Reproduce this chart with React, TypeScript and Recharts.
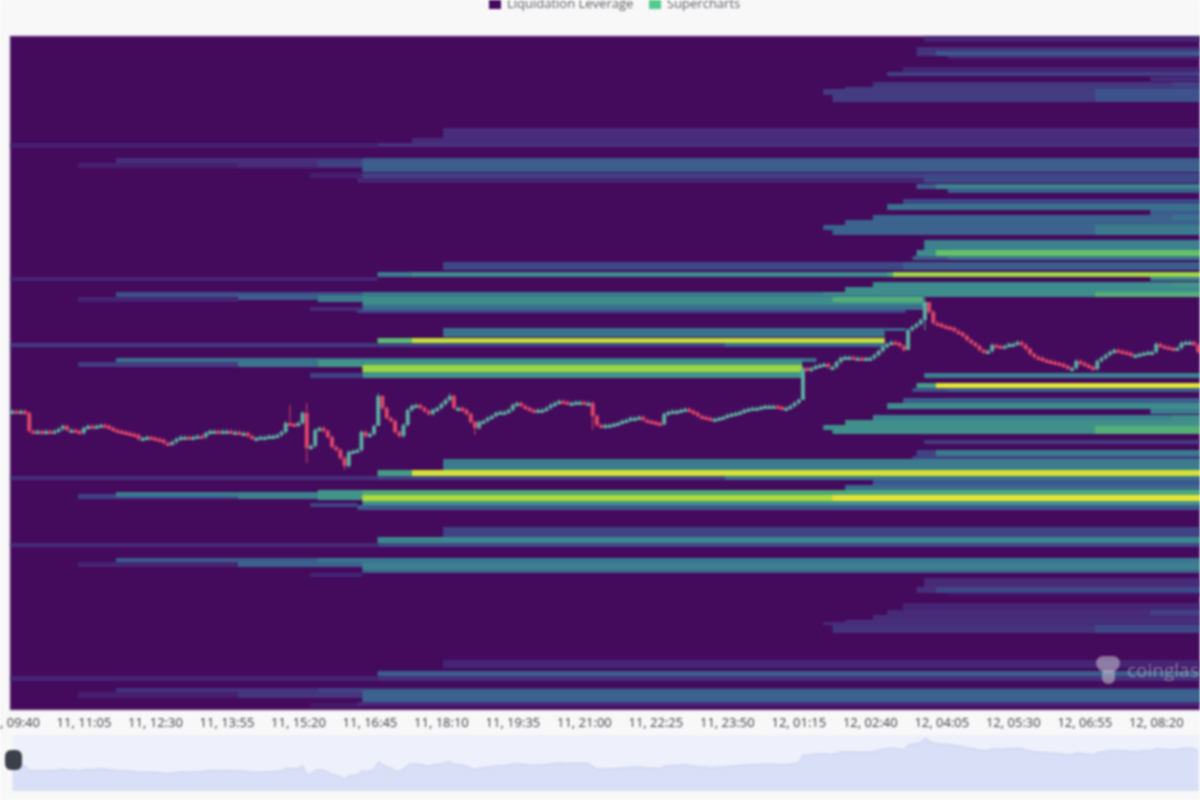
import { Area, AreaChart, Bar, ComposedChart, ReferenceArea, XAxis, YAxis } from 'recharts';

// time axis is minutes counted from 00:00 on the 11th, price is in relative levels (no scale visible)
const tickTimes = [580, 665, 750, 835, 920, 1005, 1090, 1175, 1260, 1345, 1430, 1515, 1600, 1685, 1770, 1855, 1940];
const tickLabels = [
  '11, 09:40', '11, 11:05', '11, 12:30', '11, 13:55', '11, 15:20', '11, 16:45', '11, 18:10', '11, 19:35', '11, 21:00',
  '11, 22:25', '11, 23:50', '12, 01:15', '12, 02:40', '12, 04:05', '12, 05:30', '12, 06:55', '12, 08:20',
];

const START = 577;
const END = 1992;
const FIRST_CANDLE = 580;

// one close per 5 minute candle
const closes = [
  299, 298, 299, 297, 279, 278, 279, 277, 279, 278, 279, 281, 284, 280, 280, 279, 277, 282, 284, 283,
  284, 285, 284, 282, 280, 279, 278, 277, 276, 275, 271, 272, 273, 272, 271, 270, 267, 266, 268, 271,
  273, 273, 272, 273, 274, 273, 277, 279, 279, 278, 279, 279, 278, 278, 277, 277, 274, 272, 272, 273,
  273, 274, 274, 275, 278, 287, 286, 285, 287, 297, 262, 264, 280, 282, 279, 273, 263, 260, 252, 244,
  258, 259, 260, 278, 274, 276, 284, 314, 302, 292, 289, 278, 274, 285, 300, 304, 305, 302, 299, 296,
  300, 302, 306, 310, 314, 302, 302, 300, 296, 288, 282, 288, 289, 292, 294, 297, 298, 298, 300, 305,
  307, 304, 302, 300, 299, 300, 300, 302, 305, 307, 309, 308, 307, 307, 308, 308, 307, 307, 294, 285,
  283, 285, 285, 286, 287, 289, 290, 292, 292, 293, 290, 289, 288, 287, 286, 296, 298, 299, 299, 300,
  301, 299, 297, 294, 293, 292, 291, 291, 292, 293, 295, 296, 297, 298, 300, 301, 302, 302, 303, 304,
  304, 304, 303, 302, 302, 304, 307, 310, 342, 340, 342, 344, 345, 346, 343, 343, 348, 352, 353, 353,
  352, 352, 351, 352, 352, 355, 359, 363, 366, 368, 367, 364, 360, 380, 383, 386, 390, 408, 398, 387,
  386, 384, 383, 382, 379, 377, 374, 370, 367, 364, 360, 358, 359, 365, 364, 363, 364, 366, 366, 368,
  365, 361, 356, 353, 352, 350, 349, 348, 347, 346, 344, 342, 342, 349, 347, 345, 343, 341, 349, 352,
  355, 358, 360, 359, 358, 357, 355, 355, 356, 357, 358, 358, 366, 364, 363, 362, 361, 362, 367, 368,
  368, 365, 358,
];

// candles with long wicks: [candle index, level]
const longHighs = [[66, 305], [70, 307], [87, 317], [88, 315], [104, 317], [217, 412], [218, 400]];
const longLows = [[70, 247], [79, 240], [80, 242], [87, 285], [110, 275], [138, 280], [188, 310], [213, 360], [217, 380]];

// liquidation rows: [upper level, lower level, from, to, heat 0..1]; later rows paint over earlier ones
const ladderTop = [
  [674, 668, 1664, END, 0.1], [663, 659, 1655, END, 0.14], [659, 654, 1655, END, 0.16], [659, 654, 1678, END, 0.28],
  [654, 651, 1692, END, 0.1], [643, 638, 1639, END, 0.1], [638, 634, 1620, END, 0.2], [633, 629, 1933, END, 0.14],
  [628, 623, 1603, END, 0.16], [628, 623, 1959, END, 0.2], [623, 621, 1570, END, 0.18], [621, 615, 1544, END, 0.18],
  [621, 615, 1867, END, 0.26], [615, 608, 1555, END, 0.18], [615, 608, 1867, END, 0.25],
];
const ladderUpper = [
  [582, 572, 1092, END, 0.13], [572, 567, 1055, END, 0.12], [567, 562, 577, 1014, 0.08], [567, 563, 1014, END, 0.15],
  [552, 545, 703, END, 0.14], [547, 542, 658, 848, 0.08], [547, 542, 848, END, 0.12], [550, 543, 943, END, 0.2],
  [552, 547, 996, END, 0.28], [548, 538, 996, END, 0.3], [537, 532, 934, 996, 0.08], [537, 532, 996, END, 0.2],
  [532, 527, 990, END, 0.1], [537, 527, 1664, END, 0.22], [526, 521, 1655, END, 0.3], [526, 521, 1678, END, 0.46],
  [521, 517, 1692, END, 0.3], [511, 506, 1639, END, 0.22], [506, 500, 1620, END, 0.38], [500, 495, 1933, END, 0.3],
  [495, 490, 1603, END, 0.32], [495, 490, 1959, END, 0.38], [490, 485, 1570, END, 0.32], [485, 480, 1544, END, 0.32],
  [485, 480, 1867, END, 0.42], [480, 475, 1555, END, 0.32], [480, 475, 1867, END, 0.42],
];
const ladderMiddle = [
  [470, 460, 1664, END, 0.45], [460, 454, 1655, END, 0.5], [460, 454, 1678, END, 0.75], [454, 450, 1650, END, 0.3],
  [454, 450, 1692, END, 0.4], [448, 440, 1092, END, 0.22], [448, 440, 1639, END, 0.3], [438, 433, 1014, END, 0.42],
  [438, 433, 1055, END, 0.5], [438, 433, 1620, END, 0.62], [438, 433, 1627, END, 0.85], [433, 429, 577, 1014, 0.1],
  [433, 429, 1933, END, 0.45], [428, 423, 1603, END, 0.5], [428, 423, 1959, END, 0.55], [423, 418, 1570, END, 0.5],
  [418, 413, 703, END, 0.25], [418, 413, 996, END, 0.42], [418, 413, 1544, END, 0.5], [418, 413, 1867, END, 0.68],
  [415, 410, 848, 1663, 0.3], [415, 408, 943, 1663, 0.42], [413, 405, 996, 1663, 0.5], [413, 408, 1555, 1663, 0.68],
  [413, 408, 658, 848, 0.1], [405, 400, 996, 1663, 0.35], [403, 399, 934, 996, 0.12], [400, 397, 990, 1642, 0.22],
];
const ladderPrice = [
  [382, 373, 1092, 1617, 0.38], [382, 379, 1617, 1642, 0.35], [372, 367, 1014, 1617, 0.72], [372, 367, 1055, 1617, 0.92],
  [367, 363, 577, 1014, 0.18], [367, 363, 1014, 1617, 0.2], [367, 363, 1427, 1617, 0.35], [352, 348, 703, 1536, 0.38],
  [348, 343, 658, 848, 0.18], [348, 343, 848, 943, 0.4], [350, 343, 943, 996, 0.55], [350, 345, 996, 1519, 0.55],
  [345, 338, 996, 1519, 0.85], [338, 332, 996, 1519, 0.55], [337, 332, 934, 996, 0.2], [337, 332, 1664, END, 0.45],
  [327, 322, 1655, END, 0.6], [327, 322, 1678, END, 0.98], [322, 318, 1650, END, 0.25], [322, 318, 1692, END, 0.3],
  [312, 307, 1639, END, 0.3], [307, 301, 1620, END, 0.5], [301, 296, 1933, END, 0.42], [295, 290, 1603, END, 0.45],
  [295, 290, 1959, END, 0.5], [290, 285, 1570, END, 0.52], [285, 280, 1544, END, 0.52], [280, 276, 1555, END, 0.52],
  [284, 276, 1867, END, 0.68],
];
const ladderLower = [
  [270, 266, 1664, END, 0.18], [260, 254, 1655, END, 0.2], [260, 254, 1678, END, 0.42], [254, 251, 1650, END, 0.2],
  [251, 240, 1092, END, 0.42], [240, 234, 1014, END, 0.6], [240, 234, 1055, END, 0.95], [234, 230, 577, 1014, 0.14],
  [234, 230, 1014, END, 0.2], [234, 230, 1427, END, 0.38], [230, 225, 1603, END, 0.28], [225, 220, 1570, END, 0.35],
  [216, 211, 658, 848, 0.2], [218, 213, 703, END, 0.42], [218, 211, 848, END, 0.45], [220, 210, 943, END, 0.55],
  [220, 215, 996, END, 0.65], [215, 209, 996, END, 0.88], [215, 209, 1555, END, 0.98], [209, 205, 996, END, 0.55],
  [205, 200, 990, END, 0.28], [207, 203, 934, 990, 0.2],
];
const ladderBottom = [
  [183, 173, 1092, END, 0.2], [173, 167, 1014, END, 0.48], [167, 163, 577, 1014, 0.12], [167, 163, 1014, END, 0.22],
  [152, 147, 703, END, 0.3], [152, 147, 943, END, 0.4], [148, 143, 658, 848, 0.1], [148, 143, 848, END, 0.32],
  [152, 147, 996, END, 0.4], [147, 140, 996, END, 0.45], [140, 137, 996, END, 0.3], [137, 133, 934, 996, 0.1],
  [132, 123, 1664, END, 0.12], [123, 117, 1655, END, 0.14], [123, 117, 1678, END, 0.22], [117, 113, 1692, END, 0.03],
  [107, 100, 1639, END, 0.1], [100, 95, 1620, END, 0.12], [100, 95, 1933, END, 0.2], [95, 90, 1603, END, 0.12],
  [90, 83, 1570, END, 0.15], [88, 85, 1544, END, 0.12], [85, 77, 1555, END, 0.15], [85, 77, 1867, END, 0.22],
  [50, 42, 1092, END, 0.1], [39, 34, 1014, END, 0.3], [34, 29, 577, 1014, 0.1], [34, 29, 1014, END, 0.14],
  [22, 16, 703, END, 0.15], [22, 16, 943, END, 0.2], [18, 12, 658, 848, 0.08], [18, 12, 848, END, 0.16],
  [20, 8, 996, END, 0.32], [7, 3, 934, 996, 0.06], [8, 4, 990, END, 0.12],
];

const heatRows = [...ladderTop, ...ladderUpper, ...ladderMiddle, ...ladderPrice, ...ladderLower, ...ladderBottom];

const VIRIDIS = [
  [68, 10, 92], [71, 44, 122], [61, 81, 139], [58, 113, 142], [62, 140, 140],
  [72, 160, 130], [100, 195, 105], [170, 218, 60], [240, 230, 50],
];

const heatColor = (heat: number) => {
  const pos = heat * (VIRIDIS.length - 1);
  const i = Math.min(Math.floor(pos), VIRIDIS.length - 2);
  const t = pos - i;
  const c = VIRIDIS[i].map((v, n) => Math.round(v + (VIRIDIS[i + 1][n] - v) * t));
  return `rgb(${c[0]},${c[1]},${c[2]})`;
};

const highOf = new Map(longHighs.map(([i, v]) => [i, v]));
const lowOf = new Map(longLows.map(([i, v]) => [i, v]));

const candles = closes.map((close, i) => {
  const open = i === 0 ? close : closes[i - 1];
  const high = highOf.get(i) ?? Math.max(open, close) + 2;
  const low = lowOf.get(i) ?? Math.min(open, close) - 2;
  return { time: FIRST_CANDLE + i * 5, open, close, high, low, range: [low, high] };
});

const Candle = (props: any) => {
  const { x, y, width, height, payload } = props;
  const h = Math.abs(height);
  const perLevel = h / (payload.high - payload.low || 1);
  const bodyTop = y + (payload.high - Math.max(payload.open, payload.close)) * perLevel;
  const bodyHeight = Math.max(Math.abs(payload.open - payload.close) * perLevel, 3);
  const color = payload.close >= payload.open ? '#5aaf9e' : '#dc4669';
  return (
    <g>
      <rect x={x + width / 2 - 0.5} y={y} width={1} height={h} fill={color} />
      <rect x={x} y={bodyTop} width={width} height={bodyHeight} fill={color} />
    </g>
  );
};

export default function App() {
  return (
    <div style={{ position: 'absolute', left: 0, top: 0, width: 1200, height: 800, overflow: 'hidden', background: '#f8f8f8', filter: 'blur(1px)' }}>
      {/* legend, cut by the top of the crop like the reference */}
      <div style={{ position: 'absolute', left: 489, top: -4, display: 'flex', fontSize: 13, color: '#5f5f66', fontFamily: '"Open Sans", sans-serif', lineHeight: '14px', whiteSpace: 'nowrap' }}>
        <span style={{ width: 12, height: 13, background: '#44095c', marginRight: 6 }} />
        <span style={{ width: 142 }}>Liquidation Leverage</span>
        <span style={{ width: 12, height: 13, background: '#54ca8c', marginRight: 6 }} />
        <span>Supercharts</span>
      </div>

      <ComposedChart width={1200} height={735} data={candles} margin={{ top: 36, right: 0, bottom: 0, left: 10 }}>
        <XAxis
          dataKey="time"
          type="number"
          domain={[START, END]}
          ticks={tickTimes}
          interval={0}
          tickFormatter={(t: number) => tickLabels[tickTimes.indexOf(t)]}
          axisLine={false}
          tickLine={false}
          height={25}
          tick={{ fontSize: 13, fill: '#3c3c44', fontFamily: '"Open Sans", sans-serif' }}
          allowDataOverflow
        />
        <YAxis hide type="number" domain={[0, 674]} allowDataOverflow />
        <ReferenceArea x1={START} x2={END} y1={0} y2={674} fill={heatColor(0)} fillOpacity={1} stroke="#a58ab8" strokeWidth={1} />
        {heatRows.map(([upper, lower, from, to, heat], i) => (
          <ReferenceArea key={i} x1={from} x2={to} y1={lower} y2={upper} fill={heatColor(heat)} fillOpacity={1} stroke="none" />
        ))}
        <Bar dataKey="range" barSize={4} shape={Candle} isAnimationActive={false} />
      </ComposedChart>

      {/* watermark */}
      <div style={{ position: 'absolute', left: 1096, top: 656, width: 24, height: 16, borderRadius: '9px 9px 12px 12px', background: 'rgba(190,185,200,0.6)' }} />
      <div style={{ position: 'absolute', left: 1102, top: 670, width: 13, height: 14, borderRadius: '2px 2px 6px 6px', background: 'rgba(190,185,200,0.6)' }} />
      <div style={{ position: 'absolute', left: 1127, top: 657, fontSize: 19, fontFamily: '"Open Sans", sans-serif', color: 'rgba(190,185,200,0.6)', whiteSpace: 'nowrap' }}>coinglass</div>

      {/* range selector under the chart */}
      <div style={{ position: 'absolute', left: 13, top: 735, width: 1187, height: 56, background: '#eef1fb' }} />
      <div style={{ position: 'absolute', left: 0, top: 735 }}>
        <AreaChart width={1200} height={56} data={candles} margin={{ top: 0, right: 0, bottom: 0, left: 10 }}>
          <XAxis hide dataKey="time" type="number" domain={[START, END]} allowDataOverflow />
          <YAxis hide type="number" domain={[196, 420]} allowDataOverflow />
          <Area dataKey="close" stroke="#c9d0ee" strokeWidth={1} fill="#d9dff6" fillOpacity={1} dot={false} isAnimationActive={false} />
        </AreaChart>
      </div>
      <div style={{ position: 'absolute', left: 5, top: 750, width: 17, height: 20, borderRadius: 6, background: '#3c4048' }} />
    </div>
  );
}
